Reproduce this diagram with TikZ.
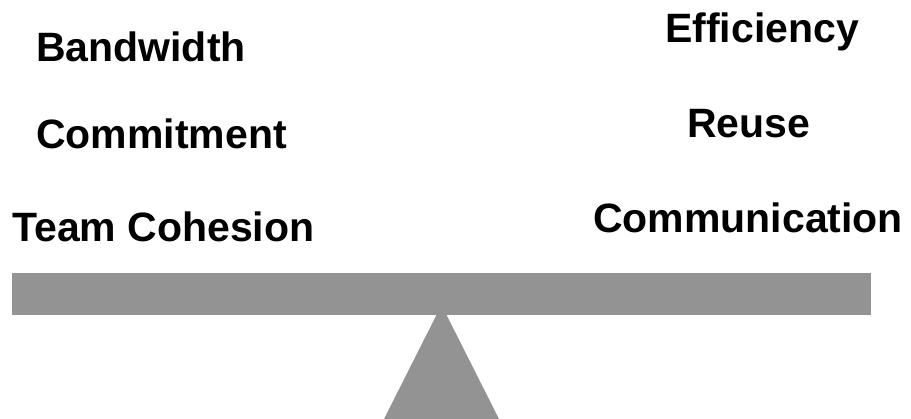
\documentclass[tikz,border=0pt]{standalone}
\usepackage{fontspec}
\setmainfont{Liberation Sans}
\definecolor{beam}{RGB}{147,147,147}
\begin{document}
\begin{tikzpicture}[x=1pt,y=1pt,
  lbl/.style={anchor=base west,inner sep=0pt,font=\fontsize{41}{48}\selectfont\bfseries}]
\useasboundingbox (0,0) rectangle (911,419);
% fulcrum and beam
\fill[beam] (384,0) -- (499,0) -- (441.5,114) -- cycle;
\fill[beam] (12,104) rectangle (871,146.3);
% left labels
\node[lbl] (bw) at (36,357) {Bandwidth};
\node[lbl] (cm) at (36,270) {Commitment};
\node[lbl] (tc) at (12,177) {Team Cohesion};
% right labels
\node[lbl] (ef) at (665,376) {Efficiency};
\node[lbl] (ru) at (687,281) {Reuse};
\node[lbl] (co) at (593,186) {Communication};
\end{tikzpicture}
\end{document}
